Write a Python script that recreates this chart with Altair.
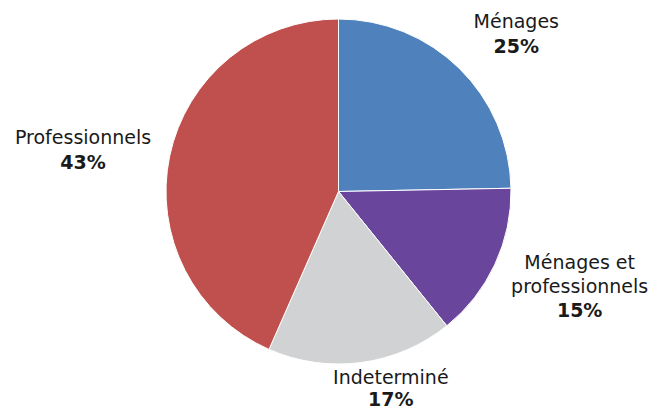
import math
import altair as alt
import pandas as pd

categories = ["Ménages", "Ménages et professionnels", "Indeterminé", "Professionnels"]
shares = [24.7, 14.5, 17.4, 43.4]
name_texts = ["Ménages", "Ménages et\nprofessionnels", "Indeterminé", "Professionnels"]
pct_texts = ["25%", "15%", "17%", "43%"]
colors = ["#4F81BD", "#6A459C", "#D0D2D3", "#C0504D"]

df = pd.DataFrame({
    "idx": list(range(len(categories))),
    "category": categories,
    "share": shares,
    "name": name_texts,
    "pct": pct_texts,
})

theta_scale = alt.Scale(domain=[0, 100], range=[0, 2 * math.pi])

base = alt.Chart(df)

pie = base.mark_arc(stroke="white", strokeWidth=1).encode(
    theta=alt.Theta("share:Q", stack=True, scale=theta_scale),
    color=alt.Color("category:N", scale=alt.Scale(domain=categories, range=colors), legend=None),
    order=alt.Order("idx:Q"),
)

# label placement style: (radius, dx, dy, gap to percent line)
label_style = [
    (241, 9, 9, 25),
    (254, 11, -30, 24),
    (200, 26, -6, 22),
    (260, -1, 6, 25),
]
line_h = 24

layers = [pie]
for i, (r, dx, dy, gap) in enumerate(label_style):
    lb = base.transform_window(
        cum="sum(share)", sort=[alt.SortField("idx")]
    ).transform_calculate(
        mid="datum.cum - datum.share / 2"
    ).transform_filter(f"datum.idx == {i}")
    n_extra = name_texts[i].count("\n")
    name = lb.mark_text(
        radius=r, dx=dx, dy=dy, font="DejaVu Sans", fontSize=19,
        lineBreak="\n", lineHeight=line_h, baseline="alphabetic",
        align="center", color="#1a1a1a",
    ).encode(theta=alt.Theta("mid:Q", stack=None, scale=theta_scale), text="name:N")
    pct = lb.mark_text(
        radius=r, dx=dx, dy=dy + n_extra * line_h + gap, font="DejaVu Sans", fontSize=19,
        fontWeight="bold", baseline="alphabetic", align="center", color="#1a1a1a",
    ).encode(theta=alt.Theta("mid:Q", stack=None, scale=theta_scale), text="pct:N")
    layers += [name, pct]

chart = alt.layer(*layers).properties(
    width=345, height=345,
    padding={"left": 166, "top": 19, "right": 141, "bottom": 43},
    autosize="none",
    background="white",
).configure_view(stroke=None)

chart.save("out.html", embed_options={"renderer": "svg", "actions": False})
